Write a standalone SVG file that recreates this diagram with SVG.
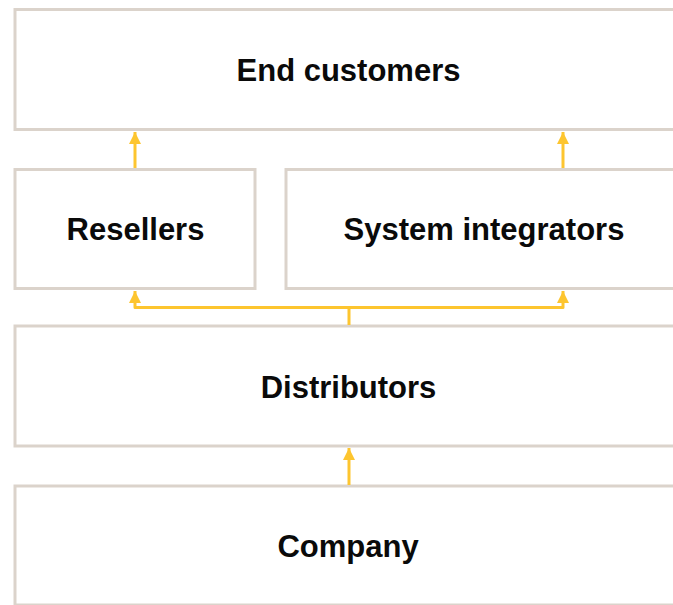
<svg xmlns="http://www.w3.org/2000/svg" width="673" height="605" viewBox="0 0 673 605">
  <defs>
    <style>
      .box { fill: #ffffff; stroke: #dbd3cb; stroke-width: 3; }
      .lbl { font-family: "Liberation Sans", Arial, sans-serif; font-weight: bold; font-size: 31px; fill: #0a0a0a; text-anchor: middle; }
      .conn { fill: none; stroke: #fdc52f; stroke-width: 3; stroke-linejoin: round; }
    </style>
    <marker id="arrow" markerWidth="4" markerHeight="4" viewBox="0 0 10 10" refX="10" refY="5" orient="auto" markerUnits="strokeWidth">
      <path d="M0,0 L10,5 L0,10 Z" fill="#fdc52f"/>
    </marker>
  </defs>
  <rect width="673" height="605" fill="#ffffff"/>
  <g id="end-customers">
    <rect class="box" x="15" y="9.5" width="700" height="120"/>
    <text class="lbl" x="348.5" y="80.5">End customers</text>
  </g>
  <g id="resellers">
    <rect class="box" x="15" y="169.5" width="240" height="119"/>
    <text class="lbl" x="135.5" y="240">Resellers</text>
  </g>
  <g id="system-integrators">
    <rect class="box" x="286" y="169.5" width="430" height="119"/>
    <text class="lbl" x="484" y="240">System integrators</text>
  </g>
  <g id="distributors">
    <rect class="box" x="15" y="326" width="700" height="120"/>
    <text class="lbl" x="348.5" y="398">Distributors</text>
  </g>
  <g id="company">
    <rect class="box" x="15" y="486" width="700" height="119"/>
    <text class="lbl" x="348" y="557">Company</text>
  </g>
  <g id="connectors">
    <path class="conn" d="M135,168 L135,132" marker-end="url(#arrow)"/>
    <path class="conn" d="M563,168 L563,132" marker-end="url(#arrow)"/>
    <path class="conn" d="M349,325 L349,307.5 L135,307.5 L135,291" marker-end="url(#arrow)"/>
    <path class="conn" d="M349,307.5 L563,307.5 L563,291" marker-end="url(#arrow)"/>
    <path class="conn" d="M349,485 L349,448" marker-end="url(#arrow)"/>
  </g>
</svg>
